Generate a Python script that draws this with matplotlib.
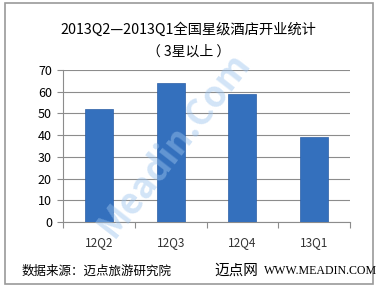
import matplotlib.pyplot as plt
from matplotlib.patches import Rectangle

plt.rcParams['font.family'] = ['Noto Sans CJK SC', 'DejaVu Sans']

# data
quarters = ['12Q2', '12Q3', '12Q4', '13Q1']
openings = [52, 64, 59, 39]
yticks = [0, 10, 20, 30, 40, 50, 60, 70]

fig = plt.figure(figsize=(3.77, 2.88), dpi=100)
fig.patch.set_facecolor('white')

# outer frame
fig.patches.append(Rectangle((5/377, 1 - 284/288), 368/377, 281/288, transform=fig.transFigure,
                             fill=False, edgecolor='#9a9a9a', linewidth=1.2))

ax = fig.add_axes([63/377, 1 - 222/288, 287/377, 152/288])
x = range(len(quarters))
ax.bar(x, openings, width=0.39, color='#3470bd', edgecolor='#2b5ea6', linewidth=0.5, zorder=3)
ax.set_xlim(-0.5, 3.5)
ax.set_ylim(0, 70)
ax.set_yticks(yticks)
ax.yaxis.grid(True, color='#8c8c8c', linewidth=0.8, zorder=0)
ax.set_xticks([-0.5, 0.5, 1.5, 2.5, 3.5])
ax.set_xticklabels([])
ax.tick_params(axis='x', length=4, color='#8c8c8c', direction='out')
ax.tick_params(axis='y', length=4, color='#8c8c8c', labelsize=9, pad=4)
for s in ['top', 'right']:
    ax.spines[s].set_visible(False)
ax.spines['left'].set_color('#8c8c8c')
ax.spines['bottom'].set_color('#8c8c8c')
for i, q in enumerate(quarters):
    ax.text(i, -9.5, q, ha='center', va='center', fontsize=8.5, color='#333333')

fig.text(0.5, 1 - 30/288, '2013Q2—2013Q1全国星级酒店开业统计', ha='center', va='center', fontsize=10.3)
fig.text(0.5, 1 - 52/288, '（ 3星以上 ）', ha='center', va='center', fontsize=10)
fig.text(22/377, 1 - 271/288, '数据来源：迈点旅游研究院', ha='left', va='center', fontsize=9)
fig.text(214/377, 1 - 271/288, '迈点网', ha='left', va='center', fontsize=10.5)
fig.text(264/377, 1 - 271/288, 'WWW.MEADIN.COM', ha='left', va='center', fontsize=8.6,
         family='Liberation Serif')

# watermark
fig.text(0.46, 0.5, 'Meadin.Com', ha='center', va='center', fontsize=26, fontweight='bold',
         rotation=52, color='#9cc4ee', alpha=0.45)

fig.savefig('out.png', dpi=100)
